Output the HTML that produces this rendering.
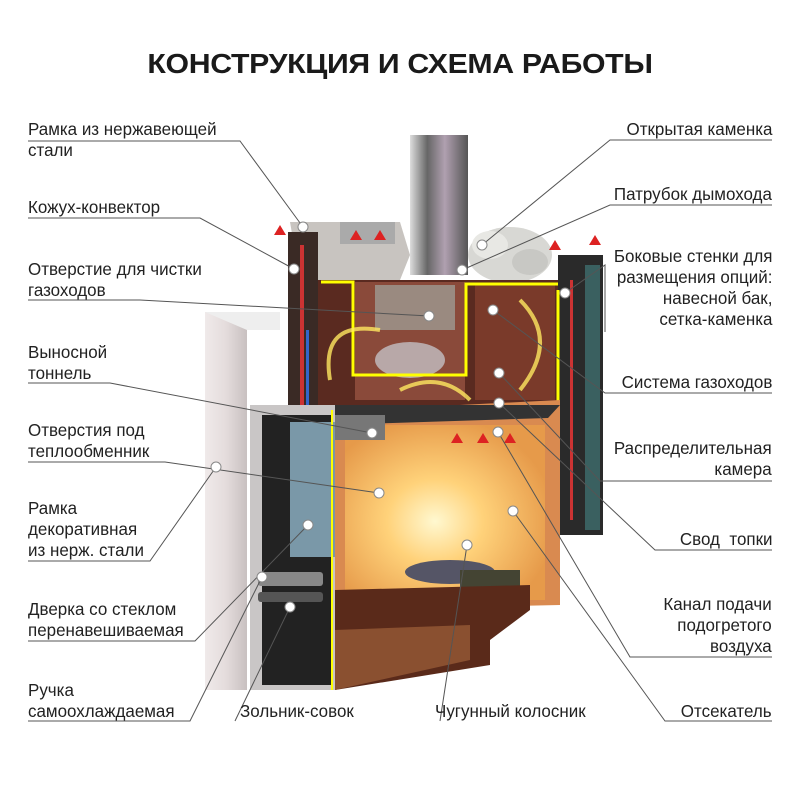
<!DOCTYPE html>
<html><head><meta charset="utf-8"><style>
body{margin:0;background:#fff;width:800px;height:801px;overflow:hidden;position:relative;font-family:"Liberation Sans",sans-serif}
.t{position:absolute;font-size:17.5px;line-height:21px;color:#222;white-space:nowrap;transform-origin:left top;transform:scaleX(0.97)}
.r{transform-origin:right top;text-align:right}
h1{position:absolute;left:0;width:800px;top:48px;margin:0;text-align:center;font-size:28px;font-weight:bold;color:#1a1a1a;letter-spacing:-0.3px;transform:scaleX(1.08)}
svg{position:absolute;left:0;top:0}
</style></head><body>
<svg width="800" height="801">
<defs>
<radialGradient id="fire" cx="0.45" cy="0.55" r="0.6"><stop offset="0" stop-color="#fff8d0"/><stop offset="0.4" stop-color="#ffd27a"/><stop offset="1" stop-color="#e69a4a"/></radialGradient>
<linearGradient id="pipe" x1="0" x2="1"><stop offset="0" stop-color="#ddd"/><stop offset="0.3" stop-color="#666"/><stop offset="0.6" stop-color="#b0a0b0"/><stop offset="1" stop-color="#555"/></linearGradient>
<linearGradient id="pillar" x1="0" x2="1"><stop offset="0" stop-color="#f0eaea"/><stop offset="0.5" stop-color="#e4dcdc"/><stop offset="1" stop-color="#c8c0c0"/></linearGradient>
</defs>
<rect x="410" y="135" width="58" height="140" fill="url(#pipe)"/>
<ellipse cx="510" cy="255" rx="42" ry="28" fill="#d8d8d4"/>
<ellipse cx="490" cy="245" rx="18" ry="14" fill="#e8e8e4"/>
<ellipse cx="530" cy="262" rx="18" ry="13" fill="#c8c8c4"/>
<polygon points="290,222 400,222 410,255 400,280 300,280" fill="#c8c4c0"/>
<rect x="340" y="222" width="55" height="22" fill="#aaa"/>
<rect x="288" y="232" width="30" height="185" fill="#3a2a25"/>
<rect x="300" y="245" width="4" height="165" fill="#c33"/>
<rect x="306" y="330" width="3" height="75" fill="#36c"/>
<rect x="318" y="280" width="242" height="125" fill="#5a2a20"/>
<rect x="355" y="282" width="110" height="118" fill="#8a4a3a"/>
<rect x="375" y="285" width="80" height="45" fill="#9a8a80"/>
<ellipse cx="410" cy="360" rx="35" ry="18" fill="#b8a8a8"/>
<rect x="475" y="285" width="80" height="115" fill="#7a3a2a"/>
<polyline points="321,282 353,282 353,375 466,375 466,284 560,284" fill="none" stroke="#ff0" stroke-width="3"/>
<path d="M330,380 Q320,320 380,330 M520,300 Q560,340 520,390 M400,390 Q440,370 470,400" fill="none" stroke="#ffe860" stroke-width="4" opacity="0.8"/>
<rect x="558" y="255" width="45" height="280" fill="#2a2a2a"/>
<rect x="585" y="265" width="15" height="265" fill="#3a6060"/>
<rect x="570" y="280" width="3" height="240" fill="#c33"/>
<line x1="558" y1="290" x2="558" y2="510" stroke="#ff0" stroke-width="3"/>
<polygon points="320,412 560,400 560,605 335,610" fill="#d98a50"/>
<rect x="345" y="425" width="200" height="175" fill="url(#fire)"/>
<polygon points="330,405 560,405 548,418 330,425" fill="#333"/>
<rect x="330" y="415" width="55" height="25" fill="#777"/>
<ellipse cx="450" cy="572" rx="45" ry="12" fill="#556"/>
<rect x="460" y="570" width="60" height="20" fill="#443"/>
<polygon points="335,590 530,585 530,610 490,640 490,665 335,690" fill="#5a2a1a"/>
<polygon points="335,630 470,625 470,660 335,690" fill="#8a5030"/>
<rect x="205" y="312" width="42" height="378" fill="url(#pillar)"/>
<polygon points="205,312 280,312 280,330 247,330" fill="#eee"/>
<rect x="250" y="405" width="85" height="285" fill="#c9c6c6"/>
<rect x="262" y="415" width="70" height="270" fill="#222"/>
<rect x="290" y="422" width="45" height="135" fill="#7a98a8"/>
<rect x="258" y="572" width="65" height="14" rx="3" fill="#888"/>
<rect x="258" y="592" width="65" height="10" rx="3" fill="#555"/>
<line x1="332" y1="410" x2="332" y2="690" stroke="#ff0" stroke-width="2"/>
<g fill="#d22">
<polygon points="280,225 274,235 286,235"/><polygon points="356,230 350,240 362,240"/><polygon points="380,230 374,240 386,240"/>
<polygon points="555,240 549,250 561,250"/><polygon points="595,235 589,245 601,245"/>
<polygon points="457,433 451,443 463,443"/><polygon points="483,433 477,443 489,443"/><polygon points="510,433 504,443 516,443"/>
</g>
<g fill="none" stroke="#555" stroke-width="1">
<polyline points="28,141 240,141 303,227"/>
<polyline points="28,218 200,218 294,269"/>
<polyline points="28,300 140,300 429,316"/>
<polyline points="28,383 110,383 372,433"/>
<polyline points="28,462 165,462 379,493"/>
<polyline points="28,561 150,561 216,467"/>
<polyline points="28,641 195,641 308,525"/>
<polyline points="28,721 190,721 262,577"/>
<polyline points="235,721 290,607"/>
<polyline points="440,721 467,545"/>
<polyline points="772,721 665,721 513,511"/>
<polyline points="772,657 630,657 498,432"/>
<polyline points="772,550 655,550 499,403"/>
<polyline points="772,481 600,481 499,373"/>
<polyline points="772,393 605,393 493,310"/>
<polyline points="605,332 605,265 565,293"/>
<polyline points="772,205 610,205 462,270"/>
<polyline points="772,140 610,140 482,245"/>
</g>
<g fill="#fff" stroke="#888" stroke-width="1">
<circle cx="303" cy="227" r="5"/><circle cx="294" cy="269" r="5"/><circle cx="429" cy="316" r="5"/><circle cx="372" cy="433" r="5"/><circle cx="379" cy="493" r="5"/><circle cx="216" cy="467" r="5"/><circle cx="308" cy="525" r="5"/><circle cx="262" cy="577" r="5"/><circle cx="290" cy="607" r="5"/><circle cx="467" cy="545" r="5"/><circle cx="513" cy="511" r="5"/><circle cx="498" cy="432" r="5"/><circle cx="499" cy="403" r="5"/><circle cx="499" cy="373" r="5"/><circle cx="493" cy="310" r="5"/><circle cx="565" cy="293" r="5"/><circle cx="462" cy="270" r="5"/><circle cx="482" cy="245" r="5"/>
</g>
</svg>
<h1>КОНСТРУКЦИЯ И СХЕМА РАБОТЫ</h1>
<div class="t" style="left:28px;top:119px">Рамка из нержавеющей<br>стали</div>
<div class="t" style="left:28px;top:197px">Кожух-конвектор</div>
<div class="t" style="left:28px;top:259px">Отверстие для чистки<br>газоходов</div>
<div class="t" style="left:28px;top:342px">Выносной<br>тоннель</div>
<div class="t" style="left:28px;top:420px">Отверстия под<br>теплообменник</div>
<div class="t" style="left:28px;top:498px">Рамка<br>декоративная<br>из нерж. стали</div>
<div class="t" style="left:28px;top:599px">Дверка со стеклом<br>перенавешиваемая</div>
<div class="t" style="left:28px;top:680px">Ручка<br>самоохлаждаемая</div>
<div class="t" style="left:240px;top:701px">Зольник-совок</div>
<div class="t" style="left:435px;top:701px">Чугунный колосник</div>
<div class="t r" style="right:28px;top:701px">Отсекатель</div>
<div class="t r" style="right:28px;top:119px">Открытая каменка</div>
<div class="t r" style="right:28px;top:184px">Патрубок дымохода</div>
<div class="t r" style="right:28px;top:246px">Боковые стенки для<br>размещения опций:<br>навесной бак,<br>сетка-каменка</div>
<div class="t r" style="right:28px;top:372px">Система газоходов</div>
<div class="t r" style="right:28px;top:438px">Распределительная<br>камера</div>
<div class="t r" style="right:28px;top:529px">Свод&nbsp; топки</div>
<div class="t r" style="right:28px;top:594px">Канал подачи<br>подогретого<br>воздуха</div>
</body></html>
